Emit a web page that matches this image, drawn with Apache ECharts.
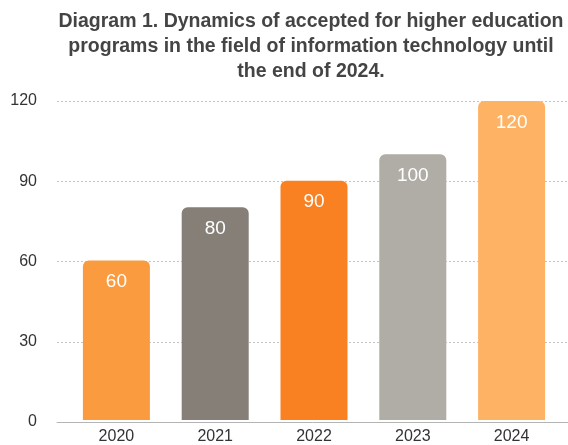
<!DOCTYPE html>
<html><head><meta charset="utf-8">
<script src="https://cdn.jsdelivr.net/npm/echarts@6/dist/echarts.min.js"></script>
<style>html,body{margin:0;padding:0;background:#fff}#c{width:568px;height:445px}</style>
</head><body><div id="c"></div>
<script>
const categories = ['2020','2021','2022','2023','2024'];
const values = [60, 80, 90, 100, 120];
const barColors = ['#FB9B40','#857F78','#F98122','#B0ACA6','#FEB264'];
const yTicks = [0, 30, 60, 90, 120];
const titleText = 'Diagram 1. Dynamics of accepted for higher education\nprograms in the field of information technology until\nthe end of 2024.';

const chart = echarts.init(document.getElementById('c'), null, {renderer:'canvas'});
const font = 'Helvetica, "Liberation Sans", Arial, sans-serif';
chart.setOption({
  animation:false,
  title:{text:titleText, left:306, top:4, textAlign:'center',
    textStyle:{fontFamily:font, fontSize:19.5, fontWeight:'bold', color:'#444', lineHeight:25}},
  grid:[
    {left:67, right:7, top:101, bottom:23, containLabel:false},
    {left:57, right:0, top:101, bottom:23, containLabel:false}
  ],
  xAxis:[
    {type:'category', data:categories, gridIndex:0,
      axisLine:{show:false}, axisTick:{show:false},
      axisLabel:{color:'#333', fontSize:16, fontFamily:font, margin:9}},
    {type:'value', gridIndex:1, min:0, max:1, show:true,
      axisLine:{show:true, onZero:false, lineStyle:{color:'#b5b5b5', width:1}},
      axisTick:{show:false}, axisLabel:{show:false}, splitLine:{show:false}}
  ],
  yAxis:[
    {type:'value', gridIndex:0, min:0, max:120, interval:30, show:false},
    {type:'value', gridIndex:1, min:0, max:120, interval:30,
      axisLine:{show:false}, axisTick:{show:false},
      axisLabel:{color:'#333', fontSize:16, fontFamily:font, margin:20,
        formatter:v=>yTicks.includes(v)?String(v):''},
      splitLine:{show:true, lineStyle:{color:'#c4c4c4', type:[2,2], width:1}}}
  ],
  series:[{
    type:'bar', xAxisIndex:0, yAxisIndex:0, barWidth:67, z:3,
    data: values.map((v,i)=>({value:v, itemStyle:{color:barColors[i]}})),
    itemStyle:{borderRadius:[6,6,0,0]},
    label:{show:true, position:'insideTop', distance:12, color:'#fff', fontSize:19, fontFamily:font}
  }]
});
</script></body></html>
